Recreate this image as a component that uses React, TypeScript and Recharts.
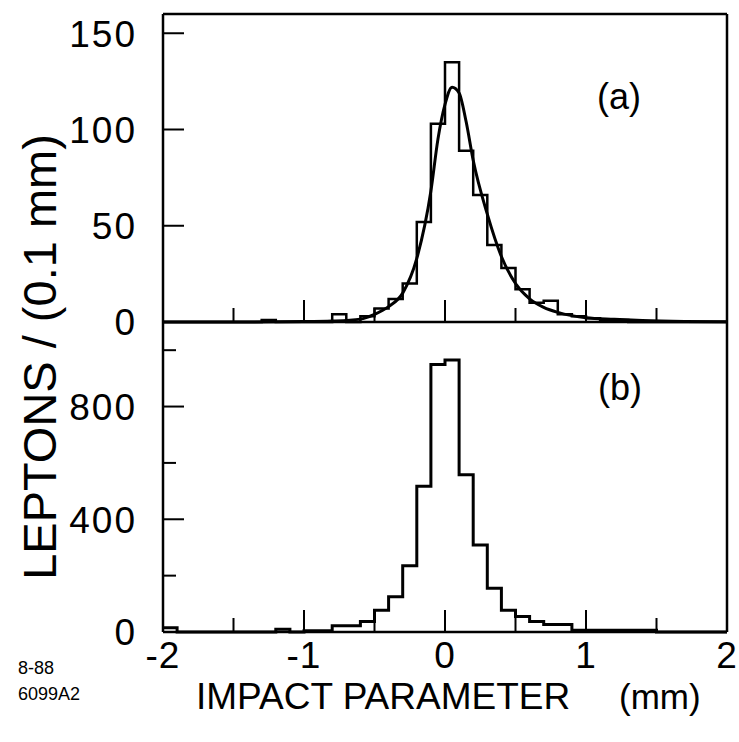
import React from 'react';
import { ComposedChart, Line, XAxis, YAxis } from 'recharts';

const FONT = '"Liberation Sans", Arial, Helvetica, sans-serif';

// bin edges, 0.1 mm wide, -2 .. 2
const binEdges = [
  -2.0, -1.9, -1.8, -1.7, -1.6, -1.5, -1.4, -1.3, -1.2, -1.1,
  -1.0, -0.9, -0.8, -0.7, -0.6, -0.5, -0.4, -0.3, -0.2, -0.1,
  0.0, 0.1, 0.2, 0.3, 0.4, 0.5, 0.6, 0.7, 0.8, 0.9,
  1.0, 1.1, 1.2, 1.3, 1.4, 1.5, 1.6, 1.7, 1.8, 1.9, 2.0,
];

// panel (a) counts per bin
const countsA = [
  0, 0, 0, 0, 0, 0, 0, 1, 0, 0,
  0, 0, 4, 0, 3, 7, 12, 20, 52, 103,
  135, 89, 66, 40, 28, 17, 10, 11, 4, 3,
  2, 1, 1, 0, 0, 0, 0, 0, 0, 0,
];

// panel (b) counts per bin
const countsB = [
  15, 0, 0, 0, 0, 0, 0, 0, 10, 0,
  4, 4, 22, 22, 37, 77, 125, 235, 517, 949,
  965, 558, 309, 155, 77, 55, 37, 27, 27, 6,
  6, 6, 6, 6, 6, 0, 0, 0, 0, 0,
];

// fitted curve in panel (a)
const fitX = [-2, -1.5, -1.0, -0.8, -0.6, -0.5, -0.4, -0.3, -0.2, -0.1, -0.05, 0, 0.05, 0.1, 0.15, 0.2, 0.3, 0.4, 0.5, 0.6, 0.7, 0.8, 0.9, 1.0, 1.2, 1.4, 1.7, 2.0];
const fitY = [0, 0, 0.2, 0.5, 1.5, 4, 8, 15, 33, 68, 95, 113, 122, 119, 104, 84, 56, 34, 20, 12, 7.6, 5, 3.3, 2.2, 1.4, 0.8, 0.3, 0.1];

const xTicks = [-2, -1.5, -1, -0.5, 0, 0.5, 1, 1.5, 2];
const xLabels = [-2, -1, 0, 1, 2];
const yTicksA = [0, 50, 100, 150];
const yTicksB = [0, 200, 400, 600, 800, 1000];
const yLabelsB = [0, 400, 800];

const histA = binEdges.map((x, i) => ({ x, n: countsA[Math.min(i, countsA.length - 1)] }));
const histB = binEdges.map((x, i) => ({ x, n: countsB[Math.min(i, countsB.length - 1)] }));
const fitData = fitX.map((x, i) => ({ x, n: fitY[i] }));

const axisLine = { stroke: '#000', strokeWidth: 2.5 };
const isMajorX = (v: number) => Number.isInteger(v);

const XTick = (props: any) => {
  const { x, y, payload, dir, labels } = props;
  const v = payload.value;
  const len = isMajorX(v) ? 22 : 14;
  return (
    <g>
      <line x1={x} y1={y} x2={x} y2={y + dir * len} stroke="#000" strokeWidth={2} />
      {labels && labels.includes(v) && (
        <text x={x} y={y + 36} textAnchor="middle" fontSize={37} letterSpacing={1} fontFamily={FONT} fill="#000">
          {v}
        </text>
      )}
    </g>
  );
};

const YTick = (props: any) => {
  const { x, y, payload, dir, labels, major } = props;
  const v = payload.value;
  const len = major == null || major.includes(v) ? 21 : 13;
  return (
    <g>
      <line x1={x} y1={y} x2={x + dir * len} y2={y} stroke="#000" strokeWidth={2} />
      {labels && labels.includes(v) && (
        <text x={x - 26} y={y} dy="0.36em" textAnchor="end" fontSize={37} letterSpacing={2} fontFamily={FONT} fill="#000">
          {v}
        </text>
      )}
    </g>
  );
};

export default function App() {
  return (
    <div style={{ position: 'absolute', left: 0, top: 0, width: 739, height: 742, background: '#fff' }}>
      <div style={{ position: 'absolute', left: 0, top: 0 }}>
        <ComposedChart width={739} height={362} margin={{ top: 0, right: 0, bottom: 0, left: 103 }}>
          <XAxis
            dataKey="x"
            type="number"
            domain={[-2, 2]}
            ticks={xTicks}
            interval={0}
            height={40}
            tickSize={0}
            tickMargin={0}
            axisLine={axisLine}
            tickLine={false}
            tick={(p: any) => <XTick {...p} dir={-1} />}
          />
          <XAxis
            xAxisId="top"
            orientation="top"
            dataKey="x"
            type="number"
            domain={[-2, 2]}
            ticks={xTicks}
            interval={0}
            height={14}
            tickSize={0}
            tickMargin={0}
            axisLine={axisLine}
            tickLine={false}
            tick={(p: any) => <XTick {...p} dir={1} />}
          />
          <YAxis
            type="number"
            domain={[0, 160]}
            ticks={yTicksA}
            interval={0}
            width={60}
            tickSize={0}
            tickMargin={0}
            axisLine={axisLine}
            tickLine={false}
            tick={(p: any) => <YTick {...p} dir={1} labels={yTicksA} />}
          />
          <YAxis
            yAxisId="r"
            orientation="right"
            type="number"
            domain={[0, 160]}
            ticks={yTicksA}
            interval={0}
            width={12}
            tickSize={0}
            tickMargin={0}
            axisLine={axisLine}
            tickLine={false}
            tick={(p: any) => <YTick {...p} dir={-1} />}
          />
          <Line
            data={histA}
            dataKey="n"
            type="stepAfter"
            stroke="#000"
            strokeWidth={2.5}
            dot={false}
            isAnimationActive={false}
          />
          <Line
            data={fitData}
            dataKey="n"
            type="monotone"
            stroke="#000"
            strokeWidth={3}
            dot={false}
            isAnimationActive={false}
          />
        </ComposedChart>
      </div>
      <div style={{ position: 'absolute', left: 0, top: 300 }}>
        <ComposedChart width={739} height={442} margin={{ top: 22, right: 0, bottom: 0, left: 103 }}>
          <XAxis
            dataKey="x"
            type="number"
            domain={[-2, 2]}
            ticks={xTicks}
            interval={0}
            height={110}
            tickSize={0}
            tickMargin={0}
            axisLine={axisLine}
            tickLine={false}
            tick={(p: any) => <XTick {...p} dir={-1} labels={xLabels} />}
          />
          <YAxis
            type="number"
            domain={[0, 1100]}
            ticks={yTicksB}
            interval={0}
            width={60}
            tickSize={0}
            tickMargin={0}
            axisLine={axisLine}
            tickLine={false}
            tick={(p: any) => <YTick {...p} dir={1} labels={yLabelsB} major={yLabelsB} />}
          />
          <YAxis
            yAxisId="r"
            orientation="right"
            type="number"
            domain={[0, 1100]}
            ticks={yTicksB}
            interval={0}
            width={12}
            tickSize={0}
            tickMargin={0}
            axisLine={axisLine}
            tickLine={false}
            tick={(p: any) => <YTick {...p} dir={-1} major={yLabelsB} />}
          />
          <Line
            data={histB}
            dataKey="n"
            type="stepAfter"
            stroke="#000"
            strokeWidth={3}
            dot={false}
            isAnimationActive={false}
          />
        </ComposedChart>
      </div>
      <svg
        width={739}
        height={742}
        style={{ position: 'absolute', left: 0, top: 0, pointerEvents: 'none' }}
        fontFamily={FONT}
      >
        <text x={619} y={109} textAnchor="middle" fontSize={36} fill="#000">(a)</text>
        <text x={620} y={400} textAnchor="middle" fontSize={36} fill="#000">(b)</text>
        <text
          x={39}
          y={357}
          transform="rotate(-90 39 357)"
          textAnchor="middle"
          dominantBaseline="central"
          fontSize={47}
          fill="#000"
        >
          LEPTONS / (0.1 mm)
        </text>
        <text x={196} y={709} fontSize={37} fill="#000">IMPACT PARAMETER</text>
        <text x={619} y={709} fontSize={35} fill="#000">(mm)</text>
        <text x={18} y={674} fontSize={18} fill="#000">8-88</text>
        <text x={18} y={700} fontSize={18} fill="#000">6099A2</text>
      </svg>
    </div>
  );
}
